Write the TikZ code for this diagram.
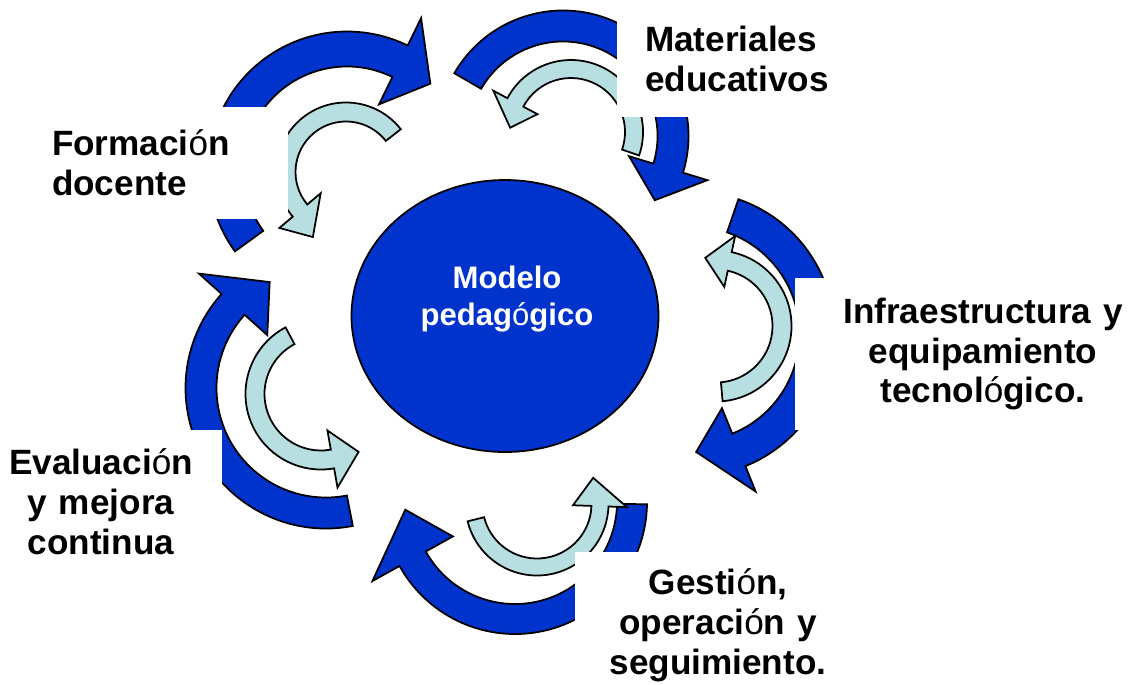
\documentclass[tikz,border=0pt]{standalone}
\usepackage{fontspec}
\setmainfont{Liberation Sans}
\usetikzlibrary{shapes.geometric}
\definecolor{deepblue}{RGB}{0,51,204}
\definecolor{paleblue}{RGB}{183,222,224}
\newcommand{\px}{0.02cm}
\newcommand{\oac}{{\mdseries ó}}
\tikzset{
  darkarrow/.style={draw=black,line width=1pt,fill=deepblue},
  lightarrow/.style={draw=black,line width=1pt,fill=paleblue},
  modelo/.style={ellipse,draw=black,line width=1pt,fill=deepblue,inner sep=0pt},
  lbl/.style={fill=white,inner sep=0pt,font=\bfseries\fontsize{20}{22.7}\selectfont}
}
% style, cx, cy, radius, width, head half width, start, end, tip
\newcommand{\cyclearrow}[9]{%
  \draw[#1,shift={(#2,#3)}]
    (#7:{#4+#5/2}) arc[start angle=#7,end angle=#8,radius={#4+#5/2}]
    -- (#8:{#4+#6}) -- (#9) -- (#8:{#4-#6})
    -- (#8:{#4-#5/2}) arc[start angle=#8,end angle=#7,radius={#4-#5/2}]
    -- cycle;
}

\begin{document}
\begin{tikzpicture}[x=0.02cm,y=0.02cm,yscale=-1]
  \useasboundingbox (0,0) rectangle (1131,684);
  % outer cycle
  \cyclearrow{darkarrow}{347}{170}{121}{35}{48}{144}{296}{314:120}
  \cyclearrow{darkarrow}{563}{136}{110}{31}{41}{210}{377}{395:112}
  \cyclearrow{darkarrow}{692}{334}{125}{35}{45}{-71}{68}{88:118}
  \cyclearrow{darkarrow}{515}{502}{117}{30}{46}{1}{151}{176:110}
  \cyclearrow{darkarrow}{326}{388}{125}{31}{46}{79}{222}{242:120}
  % inner cycle
  \cyclearrow{lightarrow}{346}{172}{60}{19}{27}{322}{140}{117:73}
  \cyclearrow{lightarrow}{571}{132}{63}{18}{25}{19}{-152}{-176:61}
  \cyclearrow{lightarrow}{716}{326}{66}{19}{26}{85}{-78}{-99:69}
  \cyclearrow{lightarrow}{537}{504}{63}{17}{27}{166}{2}{-25:62}
  \cyclearrow{lightarrow}{321}{394}{66}{19}{29}{242}{80}{57:69}

  \node[modelo,minimum width=307*\px,minimum height=272*\px] (modelo) at (505,316) {};
  \node[white,inner sep=0pt,align=center,font=\bfseries\fontsize{17.7}{21}\selectfont] (modelotxt) at (507,299) {Modelo\\pedag\oac gico};

  \node[lbl,minimum width=288*\px,minimum height=112*\px,text width=184*\px,align=left] (formacion) at (144,163) {Formaci\oac n\\docente};
  \node[lbl,minimum width=258*\px,minimum height=117*\px,text width=202*\px,align=left] (materiales) at (746,58.5) {Materiales\\educativos};
  \node[lbl,minimum width=376*\px,minimum height=152*\px,text width=320*\px,align=center] (infra) at (983,354) {Infraestructura y\\equipamiento\\tecnol\oac gico.};
  \node[lbl,minimum width=286*\px,minimum height=146*\px,text width=250*\px,align=center] (gestion) at (718,625) {Gesti\oac n,\\operaci\oac n y\\seguimiento.};
  \node[lbl,minimum width=242*\px,minimum height=143*\px,text width=210*\px,align=center] (evaluacion) at (101,501.5) {Evaluaci\oac n\\y mejora\\continua};
\end{tikzpicture}
\end{document}
